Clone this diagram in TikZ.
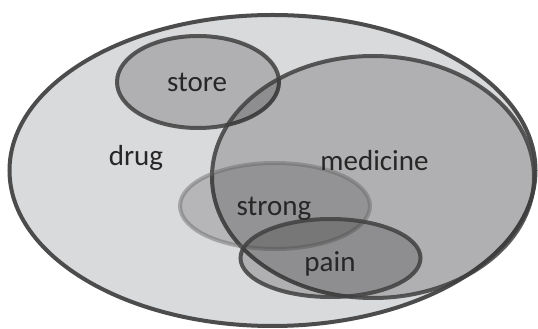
\documentclass[tikz,border=0pt]{standalone}
\usepackage{fontspec}
\setmainfont{Carlito}
\tikzset{
  set/.style={line width=4pt, draw=black!75, draw opacity=0.85, fill=black, fill opacity=0.19},
  faint/.style={line width=4pt, draw=black!60, draw opacity=0.45, fill=black, fill opacity=0.16},
  word/.style={text=black!85, font=\fontsize{29}{32}\selectfont, inner sep=0pt}
}
\begin{document}
\begin{tikzpicture}[x=1pt, y=1pt]
            % the frame
            \useasboundingbox (0,0) rectangle (538,329);
            \fill[white] (0,0) rectangle (538,329);
            % the sets
            \draw[line width=4pt, draw=black!70, fill={rgb,255:red,217;green,218;blue,220}]
                (272.5,158.5) ellipse [x radius=263, y radius=155.5];
            \draw[set] (198,247) ellipse [x radius=81, y radius=46];
            \draw[set] (373,152) ellipse [x radius=161, y radius=121];
            \draw[faint] (275,123) ellipse [x radius=95, y radius=43];
            \draw[set] (330.5,71) ellipse [x radius=90, y radius=39];

            % labels
            \node[word] (drug) at (136,171) {drug};
            \node[word] (store) at (197,247) {store};
            \node[word] (medicine) at (374.5,168) {medicine};
            \node[word] (strong) at (274,120) {strong};
            \node[word] (pain) at (330,65) {pain};
        \end{tikzpicture}
\end{document}
